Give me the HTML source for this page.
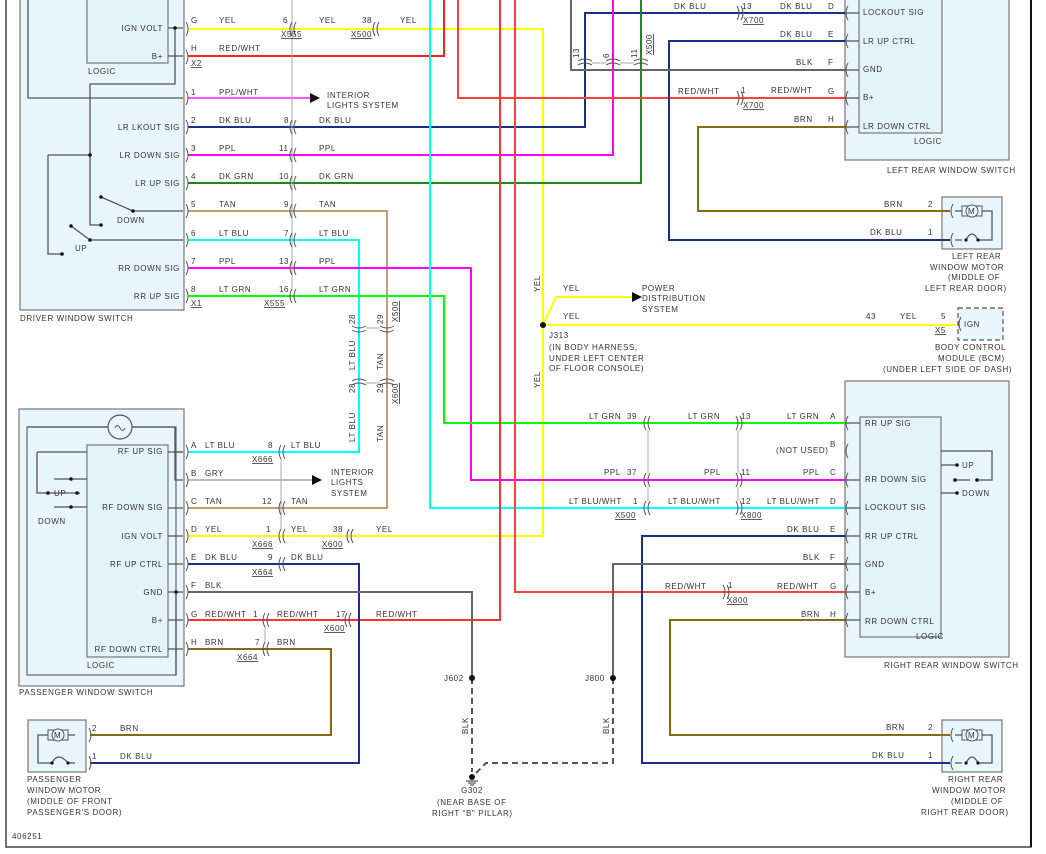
<!DOCTYPE html>
<html><head><meta charset="utf-8"><style>
html,body{margin:0;padding:0;background:#fff}
svg{display:block}
text{font-family:"Liberation Sans",sans-serif;font-size:8px;letter-spacing:.6px;fill:#333}
.e{text-anchor:end}
.w{fill:none;stroke-width:2}
.c{fill:none;stroke:#555;stroke-width:1}
.g{fill:none;stroke:#555;stroke-width:1.3}
.u{text-decoration:underline}
</style></head><body>
<svg width="1046" height="854" viewBox="0 0 1046 854" xmlns="http://www.w3.org/2000/svg">
<path d="M6 0V847H1031V0" fill="none" stroke="#444" stroke-width="1.5"/>
<path d="M1031 0V847" stroke="#111" stroke-width="2"/>

<rect x="20" y="-2" width="164" height="312" fill="#e8f5fc" stroke="#777" stroke-width="1.2"/>
<rect x="87" y="-2" width="81" height="65" fill="#e4f3fa" stroke="#777" stroke-width="1.2"/>
<rect x="845" y="-2" width="164" height="162" fill="#e8f5fc" stroke="#777" stroke-width="1.2"/>
<rect x="859" y="-2" width="83" height="135" fill="#e4f3fa" stroke="#777" stroke-width="1.2"/>
<rect x="845" y="381" width="164" height="276" fill="#e8f5fc" stroke="#777" stroke-width="1.2"/>
<rect x="860" y="417" width="81" height="220" fill="#e4f3fa" stroke="#777" stroke-width="1.2"/>
<rect x="19" y="409" width="165" height="277" fill="#e8f5fc" stroke="#777" stroke-width="1.2"/>
<rect x="27" y="427" width="149" height="248" fill="none" stroke="#666" stroke-width="1.2"/>
<rect x="87" y="445" width="81" height="212" fill="#e4f3fa" stroke="#777" stroke-width="1.2"/>
<circle cx="120" cy="427" r="12" fill="#e8f5fc" stroke="#555" stroke-width="1.2"/>
<path d="M115 428q2-5 5 0q3 5 5 0" class="c"/>
<rect x="942" y="197" width="60" height="52" fill="#e8f5fc" stroke="#777" stroke-width="1.2"/>
<rect x="942" y="720" width="60" height="52" fill="#e8f5fc" stroke="#777" stroke-width="1.2"/>
<rect x="28" y="720" width="58" height="52" fill="#e8f5fc" stroke="#777" stroke-width="1.2"/>
<rect x="958" y="308" width="45" height="32" fill="#e8f5fc" stroke="#555" stroke-width="1.2" stroke-dasharray="5,3"/>

<g class="g">
<path d="M168 28H183M168 56H183"/>
<path d="M175 28V84H90V225H101"/>
<path d="M28 -2V98H183"/>
<path d="M48 155H90M48 155V254H62"/>
<path d="M133 211H183M101 197L133 211"/>
<path d="M90 240H183M71 226L90 240"/>
</g>
<g fill="#111"><circle cx="175" cy="28" r="1.8"/><circle cx="90" cy="155" r="1.8"/><circle cx="101" cy="197" r="1.8"/><circle cx="133" cy="211" r="1.8"/><circle cx="101" cy="225" r="1.8"/><circle cx="71" cy="226" r="1.8"/><circle cx="90" cy="240" r="1.8"/><circle cx="62" cy="254" r="1.8"/></g>
<g class="g">
<path d="M27 427H108M132 427H175V452H183M175 452V480H183"/>
<path d="M37 452H87M37 452V493H80M54 479H87M54 507H87"/>
<path d="M168 452H183M168 508H183M168 536H183M168 564H183M168 592H183M168 620H183M168 649H183"/>
<path d="M176 592V675"/>
</g>
<g fill="#111"><circle cx="71" cy="479" r="1.8"/><circle cx="48" cy="493" r="1.8"/><circle cx="77" cy="493" r="1.8"/><circle cx="71" cy="507" r="1.8"/><circle cx="176" cy="592" r="1.8"/></g>
<g class="g">
<path d="M941 451H992V480H977M941 465H957M941 493H957M970 480H955"/>
<path d="M830 423H860M830 480H860M830 508H860M830 536H860M830 564H860M830 592H860M830 620H860"/>
<path d="M830 13H859M830 41H859M830 70H859M830 98H859M830 127H859"/>
</g>
<g fill="#111"><circle cx="957" cy="465" r="1.8"/><circle cx="955" cy="480" r="1.8"/><circle cx="977" cy="480" r="1.8"/><circle cx="957" cy="493" r="1.8"/></g>

<g class="w">
<path d="M188 29H543V536H188" stroke="#ffff00"/>
<path d="M543 325H955M543 325L556 297H632" stroke="#ffff00"/>
<path d="M188 56H444V0" stroke="#ff2020"/>
<path d="M188 98H310" stroke="#ff55ff"/>
<path d="M188 127H585V13H845" stroke="#1a2f8c"/>
<path d="M188 155H613V0" stroke="#ff00ff"/>
<path d="M188 183H641V0" stroke="#1a8a1a"/>
<path d="M188 211H387V508H188" stroke="#b8a070"/>
<path d="M188 240H359V452H188" stroke="#00ffff"/>
<path d="M188 268H471V480H845" stroke="#ff00ff"/>
<path d="M188 296H444V423H845" stroke="#00ff00"/>
<path d="M430 0V508H845" stroke="#00ffff"/>
<path d="M458 0V98H845" stroke="#ff4040"/>
<path d="M515 0V592H845" stroke="#ff4040"/>
<path d="M500 0V620H188" stroke="#ff3030"/>
<path d="M845 41H669V240H950" stroke="#1a2f8c"/>
<path d="M845 127H698V211H950" stroke="#8a6a10"/>
<path d="M845 536H642V763H950" stroke="#1a2f8c"/>
<path d="M845 620H670V735H950" stroke="#8a6a10"/>
<path d="M188 564H359V763H90" stroke="#1a2f8c"/>
<path d="M188 649H331V735H90" stroke="#8a6a10"/>
<path d="M188 480H312" stroke="#bbb"/>
</g>
<path d="M571 0V70H845" fill="none" stroke="#666" stroke-width="2"/>
<path d="M188 592H472V678M845 564H613V678" fill="none" stroke="#666" stroke-width="2"/>
<path d="M472 678V772M613 678V763H486L476 773" fill="none" stroke="#555" stroke-width="2" stroke-dasharray="6,4"/>
<g fill="#111"><circle cx="472" cy="678" r="3"/><circle cx="613" cy="678" r="3"/><circle cx="472" cy="777" r="3"/><circle cx="543" cy="325" r="3"/>
<path d="M632 292L642 297L632 302Z"/><path d="M310 93L320 98L310 103Z"/><path d="M312 475L322 480L312 485Z"/></g>
<path d="M466 781H478M468 783H476M470 785H474" stroke="#333"/>

<g stroke="#aaa" fill="none"><path d="M292 0V290M281 459V529M265 627V642"/></g>
<g class="c">
<path d="M186 22q4 7 0 14M186 50q4 7 0 14M186 91q4 7 0 14M186 120q4 7 0 14M186 148q4 7 0 14M186 176q4 7 0 14M186 204q4 7 0 14M186 233q4 7 0 14M186 261q4 7 0 14M186 289q4 7 0 14"/>
<path d="M186 445q4 7 0 14M186 473q4 7 0 14M186 501q4 7 0 14M186 529q4 7 0 14M186 557q4 7 0 14M186 585q4 7 0 14M186 613q4 7 0 14M186 642q4 7 0 14"/>
<path d="M848 6q-4 7 0 14M848 34q-4 7 0 14M848 63q-4 7 0 14M848 91q-4 7 0 14M848 120q-4 7 0 14"/>
<path d="M848 416q-4 7 0 14M848 444q-4 7 0 14M848 473q-4 7 0 14M848 501q-4 7 0 14M848 529q-4 7 0 14M848 557q-4 7 0 14M848 585q-4 7 0 14M848 613q-4 7 0 14"/>
<path d="M953 204q-4 7 0 14M953 233q-4 7 0 14M953 728q-4 7 0 14M953 756q-4 7 0 14M89 728q4 7 0 14M89 756q4 7 0 14"/>
<path d="M961 317q-4 7 0 14"/>
<path d="M292 22q-4 7 0 14M296 22q-4 7 0 14M292 120q-4 7 0 14M296 120q-4 7 0 14M292 148q-4 7 0 14M296 148q-4 7 0 14M292 176q-4 7 0 14M296 176q-4 7 0 14M292 204q-4 7 0 14M296 204q-4 7 0 14M292 233q-4 7 0 14M296 233q-4 7 0 14M292 261q-4 7 0 14M296 261q-4 7 0 14M292 289q-4 7 0 14M296 289q-4 7 0 14"/>
<path d="M375 22q-4 7 0 14M379 22q-4 7 0 14"/>
<path d="M741 6q4 7 0 14M737 6q4 7 0 14M741 91q4 7 0 14M737 91q4 7 0 14"/>
<path d="M281 445q-4 7 0 14M285 445q-4 7 0 14M281 501q-4 7 0 14M285 501q-4 7 0 14M281 529q-4 7 0 14M285 529q-4 7 0 14M281 557q-4 7 0 14M285 557q-4 7 0 14"/>
<path d="M349 529q-4 7 0 14M353 529q-4 7 0 14M347 613q-4 7 0 14M351 613q-4 7 0 14"/>
<path d="M265 613q-4 7 0 14M269 613q-4 7 0 14M265 642q-4 7 0 14M269 642q-4 7 0 14"/>
<path d="M646 416q-4 7 0 14M650 416q-4 7 0 14M646 473q-4 7 0 14M650 473q-4 7 0 14M646 501q-4 7 0 14M650 501q-4 7 0 14"/>
<path d="M736 416q4 7 0 14M740 416q4 7 0 14M736 473q4 7 0 14M740 473q4 7 0 14M736 501q4 7 0 14M740 501q4 7 0 14M723 585q4 7 0 14M727 585q4 7 0 14"/>
<path d="M578 61q7-4 14 0M578 65q7-4 14 0M606 61q7-4 14 0M606 65q7-4 14 0M634 61q7-4 14 0M634 65q7-4 14 0"/>
<path d="M352 326q7 4 14 0M352 330q7 4 14 0M380 326q7 4 14 0M380 330q7 4 14 0M352 381q7-4 14 0M352 385q7-4 14 0M380 381q7-4 14 0M380 385q7-4 14 0"/>
</g>
<g stroke="#aaa" fill="none"><path d="M648 430V473M648 487V501M738 430V473M738 487V501M366 328H380M366 383H380M592 63H606M620 63H634"/></g>
<g class="g">
<path d="M955 211H962M982 211H992V240H978M962 240H955M966 240Q972 228 978 240"/>
<path d="M955 735H962M982 735H992V763H978M962 763H955M966 763Q972 751 978 763"/>
<path d="M75 735H68M48 735H38V763H52M68 763H75M52 763Q58 751 68 763"/>
</g>
<g fill="#111"><circle cx="966" cy="240" r="1.6"/><circle cx="978" cy="240" r="1.6"/><circle cx="966" cy="763" r="1.6"/><circle cx="978" cy="763" r="1.6"/><circle cx="52" cy="763" r="1.6"/><circle cx="68" cy="763" r="1.6"/></g>
<g fill="#e8f5fc" stroke="#555"><rect x="962" y="206" width="20" height="10"/><circle cx="972" cy="211" r="6"/><rect x="962" y="730" width="20" height="10"/><circle cx="972" cy="735" r="6"/><rect x="48" y="730" width="20" height="10"/><circle cx="58" cy="735" r="6"/></g>
<text x="968" y="214">M</text><text x="968" y="738">M</text><text x="54" y="738">M</text>

<text x="163" y="31" class="e">IGN VOLT</text><text x="163" y="59" class="e">B+</text><text x="88" y="74">LOGIC</text>
<text x="180" y="130" class="e">LR LKOUT SIG</text><text x="180" y="158" class="e">LR DOWN SIG</text><text x="180" y="186" class="e">LR UP SIG</text>
<text x="117" y="223">DOWN</text><text x="75" y="251">UP</text>
<text x="180" y="271" class="e">RR DOWN SIG</text><text x="180" y="299" class="e">RR UP SIG</text>
<text x="20" y="321">DRIVER WINDOW SWITCH</text>
<g>
<text x="191" y="23">G</text><text x="219" y="23">YEL</text><text x="191" y="51">H</text><text x="219" y="51">RED/WHT</text><text x="191" y="66" class="u">X2</text>
<text x="191" y="95">1</text><text x="219" y="95">PPL/WHT</text>
<text x="191" y="123">2</text><text x="219" y="123">DK BLU</text>
<text x="191" y="151">3</text><text x="219" y="151">PPL</text>
<text x="191" y="179">4</text><text x="219" y="179">DK GRN</text>
<text x="191" y="207">5</text><text x="219" y="207">TAN</text>
<text x="191" y="236">6</text><text x="219" y="236">LT BLU</text>
<text x="191" y="264">7</text><text x="219" y="264">PPL</text>
<text x="191" y="292">8</text><text x="219" y="292">LT GRN</text><text x="191" y="306" class="u">X1</text>
<text x="283" y="23">6</text><text x="281" y="37" class="u">X555</text><text x="319" y="23">YEL</text>
<text x="362" y="23">38</text><text x="351" y="37" class="u">X500</text><text x="400" y="23">YEL</text>
<text x="284" y="123">8</text><text x="319" y="123">DK BLU</text>
<text x="279" y="151">11</text><text x="319" y="151">PPL</text>
<text x="279" y="179">10</text><text x="319" y="179">DK GRN</text>
<text x="284" y="207">9</text><text x="319" y="207">TAN</text>
<text x="284" y="236">7</text><text x="319" y="236">LT BLU</text>
<text x="279" y="264">13</text><text x="319" y="264">PPL</text>
<text x="279" y="292">16</text><text x="319" y="292">LT GRN</text><text x="264" y="306" class="u">X555</text>
<text x="327" y="98">INTERIOR</text><text x="327" y="108">LIGHTS SYSTEM</text>
</g>
<g>
<text transform="translate(355,324) rotate(-90)">28</text><text transform="translate(383,324) rotate(-90)">29</text><text transform="translate(398,322) rotate(-90)" class="u">X500</text>
<text transform="translate(355,393) rotate(-90)">28</text><text transform="translate(383,393) rotate(-90)">29</text><text transform="translate(398,404) rotate(-90)" class="u">X600</text>
<text transform="translate(355,370) rotate(-90)">LT BLU</text><text transform="translate(383,370) rotate(-90)">TAN</text>
<text transform="translate(355,442) rotate(-90)">LT BLU</text><text transform="translate(383,442) rotate(-90)">TAN</text>
<text transform="translate(540,292) rotate(-90)">YEL</text><text transform="translate(540,388) rotate(-90)">YEL</text>
<text transform="translate(579,58) rotate(-90)">13</text><text transform="translate(609,58) rotate(-90)">6</text><text transform="translate(637,58) rotate(-90)">11</text><text transform="translate(652,55) rotate(-90)" class="u">X500</text>
<text transform="translate(468,734) rotate(-90)">BLK</text><text transform="translate(609,734) rotate(-90)">BLK</text>
</g>
<text x="563" y="291">YEL</text><text x="563" y="319">YEL</text>
<text x="642" y="291">POWER</text><text x="642" y="301">DISTRIBUTION</text><text x="642" y="312">SYSTEM</text>
<text x="549" y="338">J313</text><text x="549" y="350">(IN BODY HARNESS,</text><text x="549" y="361">UNDER LEFT CENTER</text><text x="549" y="371">OF FLOOR CONSOLE)</text>
<text x="866" y="319">43</text><text x="900" y="319">YEL</text><text x="941" y="319">5</text><text x="935" y="333" class="u">X5</text><text x="964" y="327">IGN</text>
<text x="935" y="350">BODY CONTROL</text><text x="938" y="361">MODULE (BCM)</text><text x="883" y="372">(UNDER LEFT SIDE OF DASH)</text>

<text x="674" y="9">DK BLU</text><text x="742" y="9">13</text><text x="743" y="23" class="u">X700</text><text x="780" y="9">DK BLU</text><text x="828" y="9">D</text>
<text x="780" y="37">DK BLU</text><text x="828" y="37">E</text>
<text x="796" y="65">BLK</text><text x="828" y="65">F</text>
<text x="678" y="94">RED/WHT</text><text x="741" y="93">1</text><text x="743" y="108" class="u">X700</text><text x="771" y="93">RED/WHT</text><text x="828" y="94">G</text>
<text x="794" y="122">BRN</text><text x="828" y="122">H</text>
<text x="863" y="15">LOCKOUT SIG</text><text x="863" y="44">LR UP CTRL</text><text x="863" y="72">GND</text><text x="863" y="100">B+</text><text x="863" y="129">LR DOWN CTRL</text>
<text x="914" y="144">LOGIC</text><text x="887" y="173">LEFT REAR WINDOW SWITCH</text>
<text x="884" y="207">BRN</text><text x="928" y="207">2</text><text x="870" y="235">DK BLU</text><text x="928" y="235">1</text>
<text x="952" y="259">LEFT REAR</text><text x="930" y="270">WINDOW MOTOR</text><text x="948" y="280">(MIDDLE OF</text><text x="925" y="291">LEFT REAR DOOR)</text>

<text x="589" y="419">LT GRN</text><text x="627" y="419">39</text><text x="688" y="419">LT GRN</text><text x="741" y="419">13</text><text x="787" y="419">LT GRN</text><text x="830" y="419">A</text>
<text x="776" y="453">(NOT USED)</text><text x="830" y="447">B</text>
<text x="604" y="475">PPL</text><text x="627" y="475">37</text><text x="704" y="475">PPL</text><text x="741" y="475">11</text><text x="803" y="475">PPL</text><text x="830" y="475">C</text>
<text x="569" y="504">LT BLU/WHT</text><text x="633" y="504">1</text><text x="668" y="504">LT BLU/WHT</text><text x="741" y="504">12</text><text x="767" y="504">LT BLU/WHT</text><text x="830" y="504">D</text>
<text x="615" y="518" class="u">X500</text><text x="741" y="518" class="u">X800</text>
<text x="787" y="532">DK BLU</text><text x="830" y="532">E</text>
<text x="803" y="560">BLK</text><text x="830" y="560">F</text>
<text x="665" y="589">RED/WHT</text><text x="728" y="588">1</text><text x="727" y="603" class="u">X800</text><text x="777" y="589">RED/WHT</text><text x="830" y="589">G</text>
<text x="801" y="617">BRN</text><text x="830" y="617">H</text>
<text x="865" y="426">RR UP SIG</text><text x="865" y="482">RR DOWN SIG</text><text x="865" y="510">LOCKOUT SIG</text><text x="865" y="539">RR UP CTRL</text><text x="865" y="567">GND</text><text x="865" y="595">B+</text><text x="865" y="624">RR DOWN CTRL</text>
<text x="962" y="468">UP</text><text x="962" y="496">DOWN</text>
<text x="916" y="639">LOGIC</text><text x="884" y="668">RIGHT REAR WINDOW SWITCH</text>
<text x="886" y="730">BRN</text><text x="928" y="730">2</text><text x="872" y="758">DK BLU</text><text x="928" y="758">1</text>
<text x="948" y="782">RIGHT REAR</text><text x="932" y="793">WINDOW MOTOR</text><text x="951" y="804">(MIDDLE OF</text><text x="921" y="815">RIGHT REAR DOOR)</text>

<text x="163" y="454" class="e">RF UP SIG</text><text x="163" y="510" class="e">RF DOWN SIG</text><text x="163" y="539" class="e">IGN VOLT</text><text x="163" y="567" class="e">RF UP CTRL</text><text x="163" y="595" class="e">GND</text><text x="163" y="623" class="e">B+</text><text x="163" y="652" class="e">RF DOWN CTRL</text>
<text x="54" y="496">UP</text><text x="38" y="524">DOWN</text><text x="87" y="668">LOGIC</text>
<text x="19" y="695">PASSENGER WINDOW SWITCH</text>
<text x="191" y="448">A</text><text x="205" y="448">LT BLU</text><text x="268" y="448">8</text><text x="291" y="448">LT BLU</text><text x="252" y="462" class="u">X666</text>
<text x="191" y="476">B</text><text x="205" y="476">GRY</text><text x="331" y="475">INTERIOR</text><text x="331" y="485">LIGHTS</text><text x="331" y="496">SYSTEM</text>
<text x="191" y="504">C</text><text x="205" y="504">TAN</text><text x="262" y="504">12</text><text x="291" y="504">TAN</text>
<text x="191" y="532">D</text><text x="205" y="532">YEL</text><text x="266" y="532">1</text><text x="291" y="532">YEL</text><text x="252" y="547" class="u">X666</text><text x="333" y="532">38</text><text x="322" y="547" class="u">X600</text><text x="376" y="532">YEL</text>
<text x="191" y="560">E</text><text x="205" y="560">DK BLU</text><text x="268" y="560">9</text><text x="291" y="560">DK BLU</text><text x="252" y="575" class="u">X664</text>
<text x="191" y="588">F</text><text x="205" y="588">BLK</text>
<text x="191" y="617">G</text><text x="205" y="617">RED/WHT</text><text x="253" y="617">1</text><text x="277" y="617">RED/WHT</text><text x="336" y="617">17</text><text x="324" y="631" class="u">X600</text><text x="376" y="617">RED/WHT</text>
<text x="191" y="645">H</text><text x="205" y="645">BRN</text><text x="255" y="645">7</text><text x="277" y="645">BRN</text><text x="237" y="660" class="u">X664</text>
<text x="92" y="731">2</text><text x="120" y="731">BRN</text><text x="92" y="759">1</text><text x="120" y="759">DK BLU</text>
<text x="27" y="782">PASSENGER</text><text x="27" y="793">WINDOW MOTOR</text><text x="27" y="804">(MIDDLE OF FRONT</text><text x="27" y="815">PASSENGER'S DOOR)</text>
<text x="444" y="681">J602</text><text x="585" y="681">J800</text>
<text x="461" y="793">G302</text><text x="437" y="805">(NEAR BASE OF</text><text x="432" y="816">RIGHT "B" PILLAR)</text>
<text x="12" y="839">406251</text>
</svg>
</body></html>
